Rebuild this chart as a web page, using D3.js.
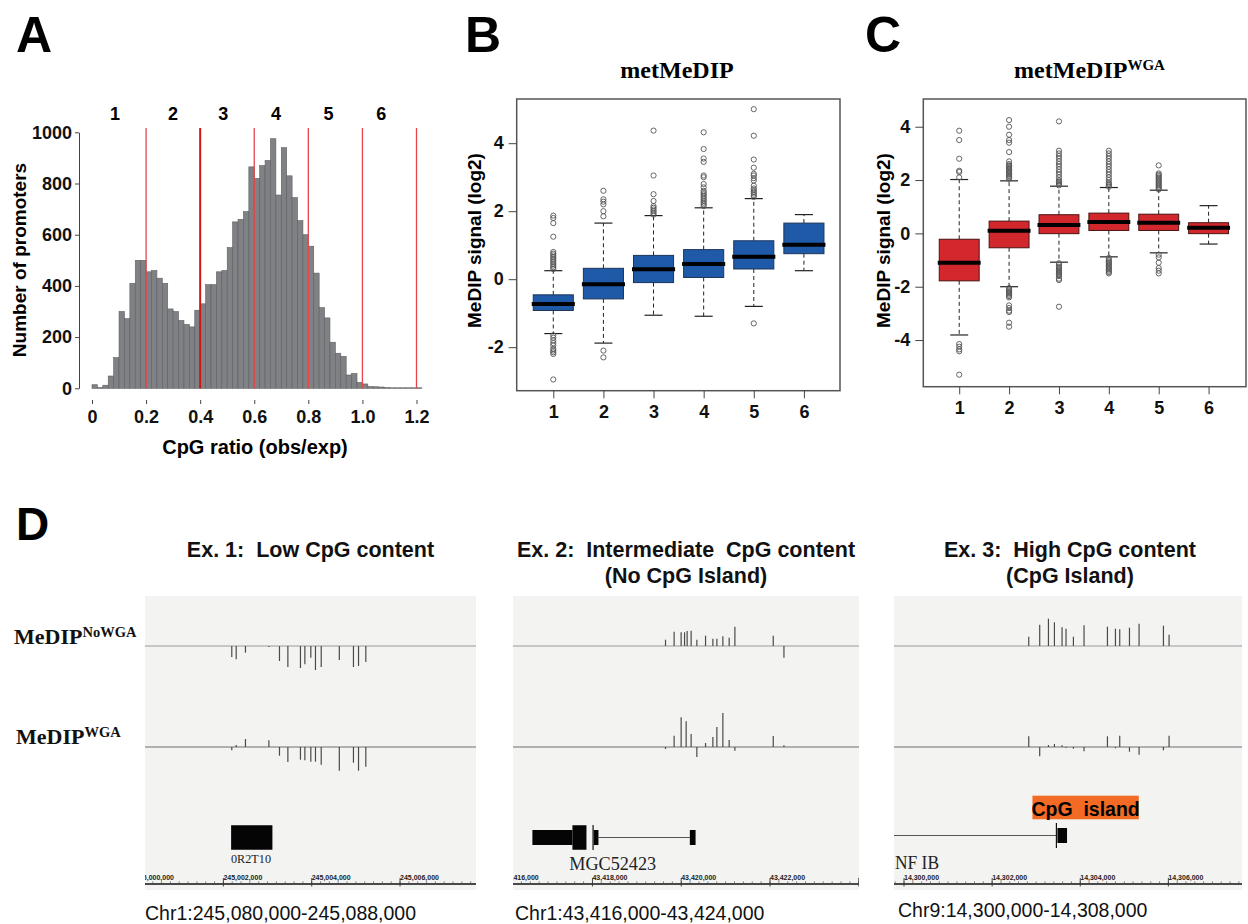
<!DOCTYPE html>
<html><head><meta charset="utf-8">
<script src="https://cdn.jsdelivr.net/npm/d3@7"></script>
<style>body{margin:0;background:#fff} svg{display:block}</style>
</head><body>
<svg id="fig" width="1248" height="924"></svg>
<script>
// ---------------- DATA ----------------
// Panel A: histogram of CpG ratio
const histBins = [0.00,0.02,0.04,0.06,0.08,0.10,0.12,0.14,0.16,0.18,
  0.20,0.22,0.24,0.26,0.28,0.30,0.32,0.34,0.36,0.38,
  0.40,0.42,0.44,0.46,0.48,0.50,0.52,0.54,0.56,0.58,
  0.60,0.62,0.64,0.66,0.68,0.70,0.72,0.74,0.76,0.78,
  0.80,0.82,0.84,0.86,0.88,0.90,0.92,0.94,0.96,0.98,
  1.00,1.02,1.04,1.06,1.08,1.10,1.12,1.14,1.16,1.18,1.20];
const histCounts = [14,3,12,48,120,300,272,410,500,500,
  455,460,430,410,310,300,265,250,240,305,
  330,405,405,455,460,550,650,660,690,865,
  820,870,890,975,755,940,830,745,655,600,
  555,450,315,275,180,137,125,52,58,23,
  17,7,6,5,3,2,2,2,2,2,2];
const binWidth = 0.02;
const cutoffs = [0.2,0.4,0.6,0.8,1.0,1.2];
const groupNames = ["1","2","3","4","5","6"];
const groupLabelX = [0.085,0.30,0.485,0.68,0.875,1.07];
const histXTicks = [0,0.2,0.4,0.6,0.8,1.0,1.2];
const histXTickLabels = ["0","0.2","0.4","0.6","0.8","1.0","1.2"];
const histYTicks = [0,200,400,600,800,1000];

// Panel B: metMeDIP boxplots
const bLow  = [-1.60,-1.88,-1.06,-1.09,-0.80,0.25];
const bQ1   = [-0.92,-0.58,-0.10,0.05,0.30,0.75];
const bMed  = [-0.73,-0.15,0.29,0.45,0.66,1.01];
const bQ3   = [-0.46,0.32,0.70,0.87,1.13,1.65];
const bHigh = [0.25,1.65,1.87,2.10,2.37,1.90];
const bOut = [
  [0.30,0.35,0.40,0.45,0.50,0.55,0.60,0.65,0.70,0.75,0.80,1.25,1.65,1.80,1.87,-1.65,-1.72,-1.80,-1.88,-1.95,-2.05,-2.10,-2.15,-2.20,-2.95],
  [1.85,2.00,2.20,2.28,2.35,2.60,-2.10,-2.30],
  [1.90,1.95,2.00,2.05,2.10,2.15,2.30,2.50,3.05,4.37],
  [2.15,2.20,2.25,2.30,2.35,2.40,2.45,2.50,2.55,2.60,2.70,2.80,3.00,3.05,3.45,3.55,3.83,4.32],
  [2.42,2.47,2.52,2.57,2.62,2.67,2.75,2.90,2.97,3.05,3.10,3.28,3.52,4.22,5.00,-1.30],
  []
];
const bYTicks = [-2,0,2,4];

// Panel C: metMeDIP WGA boxplots
const cLow  = [-3.81,-2.00,-1.08,-0.88,-0.73,-0.40];
const cQ1   = [-1.78,-0.54,-0.01,0.11,0.11,-0.01];
const cMed  = [-1.10,0.10,0.31,0.43,0.40,0.21];
const cQ3   = [-0.22,0.46,0.70,0.76,0.72,0.40];
const cHigh = [2.02,1.97,1.77,1.72,1.62,1.04];
const cOut = [
  [2.10,2.30,2.35,2.80,3.50,3.85,-4.15,-4.25,-4.35,-4.42,-5.30],
  [2.05,2.10,2.15,2.20,2.25,2.30,2.35,2.40,2.45,2.50,2.55,2.60,2.70,3.05,3.40,3.50,3.70,4.00,4.25,-2.05,-2.10,-2.15,-2.20,-2.25,-2.30,-2.35,-2.40,-2.70,-2.80,-2.90,-2.95,-3.35,-3.50],
  [1.80,1.85,1.90,1.95,2.00,2.10,2.20,2.30,2.40,2.50,2.60,2.70,2.80,2.90,3.00,3.10,4.20,-1.12,-1.18,-1.25,-1.30,-1.35,-1.40,-1.45,-1.50,-1.55,-1.60,-1.70,-1.75,-2.75],
  [1.75,1.80,1.85,1.90,2.00,2.10,2.20,2.30,2.40,2.50,2.60,2.70,2.80,2.90,3.00,3.10,-0.92,-1.00,-1.05,-1.10,-1.15,-1.20,-1.25,-1.30,-1.35,-1.40,-1.45,-1.50],
  [1.65,1.70,1.75,1.80,1.85,1.90,1.95,2.00,2.05,2.10,2.15,2.20,2.25,2.55,-0.80,-0.90,-1.10,-1.30,-1.40,-1.50],
  []
];
const cYTicks = [-4,-2,0,2,4];

// Panel D: genome browser examples
const exTitles = [["Ex. 1:  Low CpG content"],["Ex. 2:  Intermediate  CpG content","(No CpG Island)"],["Ex. 3:  High CpG content","(CpG Island)"]];
const exRegions = ["Chr1:245,080,000-245,088,000","Chr1:43,416,000-43,424,000","Chr9:14,300,000-14,308,000"];
const exWindows = [[245000225,245007720],[43416210,43424005],[14299773,14307671]];
const exRulerTicks = [[245000000,245002000,245004000,245006000],[43416000,43418000,43420000,43422000,43424000],[14300000,14302000,14304000,14306000]];

const ex1Pos = [245002190,245002290,245002500,245003030,245003270,245003460,245003745,245003845,245003980,245004085,245004215,245004625,245004945,245005060,245005225];
const ex1NoWGA = [-1.10,-1.33,-0.67,-0.10,-1.50,-2.10,-2.20,-1.83,-1.17,-2.40,-2.10,-1.40,-2.10,-2.00,-1.60];
const ex1WGA = [-0.33,0.20,0.80,0.67,-0.87,-1.50,-1.27,-1.33,-1.47,-1.47,-1.77,-2.37,-1.57,-2.37,-1.97];

const ex2Pos = [43419646,43419840,43419998,43420075,43420111,43420133,43420223,43420352,43420548,43420713,43420803,43420938,43421080,43421209,43422073,43422314];
const ex2NoWGA = [0.63,1.43,1.37,1.37,0,1.50,1.53,0.63,1.03,0.73,0.73,0.97,0.83,1.93,1.03,-1.17];
const ex2WGA = [-0.20,1.13,2.97,0,2.57,0,1.30,-1.00,0.40,1.00,2.00,3.40,0.70,-0.37,1.10,0.17];

const ex3Pos = [14302831,14303080,14303278,14303414,14303587,14303677,14303845,14304086,14304617,14304799,14304896,14305117,14305335,14305888,14306016];
const ex3NoWGA = [0.93,2.13,2.73,2.37,1.87,1.73,0.93,2.07,1.93,1.73,1.67,1.83,2.23,2.03,1.13];
const ex3WGA = [1.07,-0.93,0.20,0.30,0.17,-0.10,-0.17,-0.43,1.07,-0.13,1.13,-0.47,-0.77,-0.33,1.13];

// gene models: [start, end, kind]
const ex1Gene = {name:"0R2T10", exons:[[245002175,245003110,"cds"]], introns:[], marks:[]};
const ex2Gene = {name:"MGC52423", exons:[[43416647,43417549,"utr"],[43417549,43417865,"cds"],[43418029,43418135,"utr"],[43420194,43420323,"utr"]], introns:[[43418135,43420194]], marks:[43418014]};
const ex3Gene = {name:"NF IB", exons:[[14303482,14303700,"utr"]], introns:[[14299773,14303459]], marks:[14303459]};
const ex3Island = [14302915,14305328];
const islandLabel = "CpG  island";

// ---------------- DRAWING ----------------
const sans = "'Liberation Sans', Arial, Helvetica, sans-serif";
const serif = "'Liberation Serif', 'Times New Roman', serif";
const svg = d3.select("#fig");

function styleAxis(g, size){
  g.attr("font-family", sans).attr("font-size", size);
  g.selectAll("text").attr("font-weight","bold").attr("fill","#111");
  g.selectAll("line").attr("stroke","#444");
  g.select(".domain").attr("stroke","#444");
}
function panelLetter(t,x,y,s){
  svg.append("text").attr("x",x).attr("y",y).attr("font-family",sans).attr("font-weight","bold")
    .attr("font-size",s).attr("fill","#000").text(t);
}
const plainFmt = d => String(d);

// ---- Panel A ----
panelLetter("A",16,52,50);
const xA = d3.scaleLinear().domain([0,1.2]).range([92,416.5]);
const yA = d3.scaleLinear().domain([0,1000]).range([388.3,132.3]);
const gA = svg.append("g");
gA.selectAll("rect").data(histBins).join("rect")
  .attr("x", d=>xA(d)).attr("width", d=>xA(d+binWidth)-xA(d))
  .attr("y",(d,i)=>yA(histCounts[i])).attr("height",(d,i)=>yA(0)-yA(histCounts[i]))
  .attr("fill","#7f8184").attr("stroke","#5e5f62").attr("stroke-width",0.6);
gA.selectAll("line.cut").data(cutoffs).join("line").attr("class","cut")
  .attr("x1",d=>xA(d)).attr("x2",d=>xA(d)).attr("y1",128).attr("y2",yA(0))
  .attr("stroke",d=>d===0.4?"#d41515":"#e4474a").attr("stroke-width",d=>d===0.4?2:1.3);
const axAy = gA.append("g").attr("transform","translate(79,0)")
  .call(d3.axisLeft(yA).tickValues(histYTicks).tickSize(4).tickPadding(3).tickSizeOuter(0).tickFormat(plainFmt));
styleAxis(axAy,18);
const axAx = gA.append("g").attr("transform","translate(0,400)")
  .call(d3.axisBottom(xA).tickValues(histXTicks).tickFormat((d,i)=>histXTickLabels[i]).tickSize(4).tickPadding(6));
axAx.select(".domain").remove();
styleAxis(axAx,18);
gA.selectAll("text.grp").data(groupNames).join("text").attr("class","grp")
  .attr("x",(d,i)=>xA(groupLabelX[i])).attr("y",119.5).attr("text-anchor","middle")
  .attr("font-family",sans).attr("font-weight","bold").attr("font-size",18).text(d=>d);
gA.append("text").attr("x",255).attr("y",454).attr("text-anchor","middle")
  .attr("font-family",sans).attr("font-weight","bold").attr("font-size",20).text("CpG ratio (obs/exp)");
gA.append("text").attr("transform","translate(26,260) rotate(-90)").attr("text-anchor","middle")
  .attr("font-family",sans).attr("font-weight","bold").attr("font-size",19).text("Number of promoters");

// ---- Box panels ----
function boxPanel(o){
  const g = svg.append("g");
  const x = d3.scaleLinear().domain(o.xDom).range([o.left,o.right]);
  const y = d3.scaleLinear().domain(o.yDom).range([o.bottom,o.top]);
  const idx = d3.range(groupNames.length);
  const hw = x(1.4)-x(1), cw = x(1.18)-x(1);
  g.selectAll("line.wu").data(idx).join("line").attr("x1",i=>x(i+1)).attr("x2",i=>x(i+1))
    .attr("y1",i=>y(o.q3[i])).attr("y2",i=>y(o.hi[i])).attr("stroke","#222").attr("stroke-dasharray","4,3");
  g.selectAll("line.wl").data(idx).join("line").attr("x1",i=>x(i+1)).attr("x2",i=>x(i+1))
    .attr("y1",i=>y(o.q1[i])).attr("y2",i=>y(o.lo[i])).attr("stroke","#222").attr("stroke-dasharray","4,3");
  g.selectAll("line.cu").data(idx).join("line").attr("x1",i=>x(i+1)-cw).attr("x2",i=>x(i+1)+cw)
    .attr("y1",i=>y(o.hi[i])).attr("y2",i=>y(o.hi[i])).attr("stroke","#222").attr("stroke-width",1.2);
  g.selectAll("line.cl").data(idx).join("line").attr("x1",i=>x(i+1)-cw).attr("x2",i=>x(i+1)+cw)
    .attr("y1",i=>y(o.lo[i])).attr("y2",i=>y(o.lo[i])).attr("stroke","#222").attr("stroke-width",1.2);
  idx.forEach(i=>{
    g.selectAll(null).data(o.out[i]).join("circle").attr("cx",x(i+1)).attr("cy",d=>y(d)).attr("r",2.6)
      .attr("fill","none").attr("stroke","#555").attr("stroke-width",0.9);
  });
  g.selectAll("rect.box").data(idx).join("rect").attr("x",i=>x(i+1)-hw).attr("width",2*hw)
    .attr("y",i=>y(o.q3[i])).attr("height",i=>y(o.q1[i])-y(o.q3[i]))
    .attr("fill",o.fill).attr("stroke",o.stroke).attr("stroke-width",1);
  g.selectAll("line.med").data(idx).join("line").attr("x1",i=>x(i+1)-hw-1.5).attr("x2",i=>x(i+1)+hw+1.5)
    .attr("y1",i=>y(o.med[i])).attr("y2",i=>y(o.med[i])).attr("stroke","#000").attr("stroke-width",4);
  g.append("rect").attr("x",o.left).attr("y",o.top).attr("width",o.right-o.left).attr("height",o.bottom-o.top)
    .attr("fill","none").attr("stroke","#555").attr("stroke-width",1.5);
  const ay = g.append("g").attr("transform",`translate(${o.left},0)`)
    .call(d3.axisLeft(y).tickValues(o.yTicks).tickSize(8).tickPadding(5).tickFormat(plainFmt));
  ay.select(".domain").remove(); styleAxis(ay,18);
  const ax = g.append("g").attr("transform",`translate(0,${o.bottom})`)
    .call(d3.axisBottom(x).tickValues(idx.map(i=>i+1)).tickSize(7.6).tickPadding(7).tickFormat((d,i)=>groupNames[i]));
  ax.select(".domain").remove(); styleAxis(ax,18);
  g.append("text").attr("transform",`translate(${o.ylabX},240.5) rotate(-90)`).attr("text-anchor","middle")
    .attr("font-family",sans).attr("font-weight","bold").attr("font-size",19).text("MeDIP signal (log2)");
  const t = g.append("text").attr("x",o.titleX).attr("y",77.7).attr("text-anchor","middle")
    .attr("font-family",serif).attr("font-weight","bold").attr("font-size",24);
  t.append("tspan").text("metMeDIP");
  if(o.sup) t.append("tspan").attr("font-size",15).attr("dy",-8).text(o.sup);
}
panelLetter("B",465,52,50);
boxPanel({xDom:[0.27,6.72],yDom:[-3.28,5.30],left:516.7,right:840,top:99,bottom:390.7,
  lo:bLow,q1:bQ1,med:bMed,q3:bQ3,hi:bHigh,out:bOut,yTicks:bYTicks,fill:"#1f5aa8",stroke:"#1c3559",
  ylabX:481,titleX:677,sup:null});
panelLetter("C",865,52,50);
boxPanel({xDom:[0.28,6.75],yDom:[-5.75,5.04],left:923.3,right:1246,top:99,bottom:386.7,
  lo:cLow,q1:cQ1,med:cMed,q3:cQ3,hi:cHigh,out:cOut,yTicks:cYTicks,fill:"#d2282d",stroke:"#4a1212",
  ylabX:890,titleX:1089.5,sup:"WGA"});

// ---- Panel D ----
panelLetter("D",16,540,46);
const dPanels = [[145,476],[513,859],[894,1242]];
const dTitleX = [310.5,686,1070];
const dTop = 596, dBottom = 890, base1 = 646, base2 = 747, rulerY = 884;
const trackY = d3.scaleLinear().domain([-3,3]).range([30,-30]);
const exPos = [ex1Pos,ex2Pos,ex3Pos];
const exNo = [ex1NoWGA,ex2NoWGA,ex3NoWGA];
const exW = [ex1WGA,ex2WGA,ex3WGA];
const exGenes = [ex1Gene,ex2Gene,ex3Gene];
const exonH = {cds:24.5, utr:15};
const defs = svg.append("defs");

dPanels.forEach((p,k)=>{
  const g = svg.append("g");
  defs.append("clipPath").attr("id","clip"+k).append("rect")
    .attr("x",p[0]).attr("y",dTop).attr("width",p[1]-p[0]).attr("height",dBottom-dTop);
  const x = d3.scaleLinear().domain(exWindows[k]).range(p);
  g.append("rect").attr("x",p[0]).attr("y",dTop).attr("width",p[1]-p[0]).attr("height",dBottom-dTop).attr("fill","#f3f3f2");
  const c = g.append("g").attr("clip-path",`url(#clip${k})`);
  exTitles[k].forEach((t,j)=>{
    svg.append("text").attr("x",dTitleX[k]).attr("y",557+j*25.5).attr("text-anchor","middle")
      .attr("font-family",sans).attr("font-weight","bold").attr("font-size",21.5)
      .style("white-space","pre").attr("fill","#111").text(t);
  });
  [[base1,exNo[k],"#9a9a9a"],[base2,exW[k],"#6e6e6e"]].forEach(([b,vals,col])=>{
    c.append("line").attr("x1",p[0]).attr("x2",p[1]).attr("y1",b).attr("y2",b).attr("stroke",col).attr("stroke-width",1);
    c.selectAll(null).data(exPos[k]).join("line")
      .attr("x1",d=>x(d)).attr("x2",d=>x(d)).attr("y1",b).attr("y2",(d,i)=>b+trackY(vals[i]))
      .attr("stroke","#4a4a4a").attr("stroke-width",1.2);
  });
  const gene = exGenes[k];
  const gy = k===2 ? 835.5 : 837.5;
  c.selectAll(null).data(gene.introns).join("line")
    .attr("x1",d=>x(d[0])).attr("x2",d=>x(d[1])).attr("y1",gy).attr("y2",gy).attr("stroke","#555").attr("stroke-width",1);
  c.selectAll(null).data(gene.marks).join("line")
    .attr("x1",d=>x(d)).attr("x2",d=>x(d)).attr("y1",gy-12.5).attr("y2",gy+12.5).attr("stroke","#111").attr("stroke-width",1.2);
  c.selectAll(null).data(gene.exons).join("rect")
    .attr("x",d=>x(d[0])).attr("width",d=>x(d[1])-x(d[0]))
    .attr("y",d=>gy-exonH[d[2]]/2).attr("height",d=>exonH[d[2]]).attr("fill","#050505");
  if(k===2){
    c.append("rect").attr("x",x(ex3Island[0])).attr("width",x(ex3Island[1])-x(ex3Island[0]))
      .attr("y",795.7).attr("height",23.6).attr("fill","#f26a24");
    svg.append("text").attr("x",(x(ex3Island[0])+x(ex3Island[1]))/2).attr("y",816).attr("text-anchor","middle")
      .attr("font-family",sans).attr("font-weight","bold").attr("font-size",19.5).style("white-space","pre")
      .attr("fill","#000").text(islandLabel);
  }
  const gl = [{x:251,y:863,s:12.5,w:40,a:"middle"},{x:612.7,y:869.5,s:19,w:87,a:"middle"},{x:895,y:869,s:18,w:44,a:"start"}][k];
  c.append("text").attr("x",gl.x).attr("y",gl.y).attr("text-anchor",gl.a).attr("font-family",serif)
    .attr("font-size",gl.s).attr("textLength",gl.w).attr("lengthAdjust","spacingAndGlyphs")
    .style("white-space","pre").attr("fill","#222").text(gene.name);
  c.append("line").attr("x1",p[0]).attr("x2",p[1]).attr("y1",rulerY).attr("y2",rulerY).attr("stroke","#111").attr("stroke-width",1.5);
  const minor = d3.range(exRulerTicks[k][0]-2000, exWindows[k][1], 200);
  c.selectAll(null).data(minor).join("line").attr("x1",d=>x(d)).attr("x2",d=>x(d))
    .attr("y1",rulerY-2.5).attr("y2",rulerY).attr("stroke","#555").attr("stroke-width",0.8);
  c.selectAll(null).data(exRulerTicks[k]).join("line").attr("x1",d=>x(d)).attr("x2",d=>x(d))
    .attr("y1",rulerY-6).attr("y2",rulerY+2.5).attr("stroke","#333").attr("stroke-width",0.9);
  c.selectAll(null).data(exRulerTicks[k]).join("text").attr("x",d=>x(d)).attr("y",rulerY-4)
    .attr("font-family",sans).attr("font-weight","bold").attr("font-size",7).attr("fill","#222")
    .text(d=>d3.format(",")(d));
  svg.append("text").attr("x",[145,515,898][k]).attr("y",[920,920,917][k]).attr("font-family",sans)
    .attr("font-size",19.5).attr("fill","#111").text(exRegions[k]);
});

function trackLabel(x,y,sup,supDy){
  const t = svg.append("text").attr("x",x).attr("y",y).attr("font-family",serif).attr("font-weight","bold").attr("font-size",22).attr("fill","#111");
  t.append("tspan").text("MeDIP");
  t.append("tspan").attr("font-size",14.5).attr("dy",supDy).text(sup);
}
trackLabel(14,644.3,"NoWGA",-7);
trackLabel(16,744.3,"WGA",-7.5);
</script>
</body></html>
